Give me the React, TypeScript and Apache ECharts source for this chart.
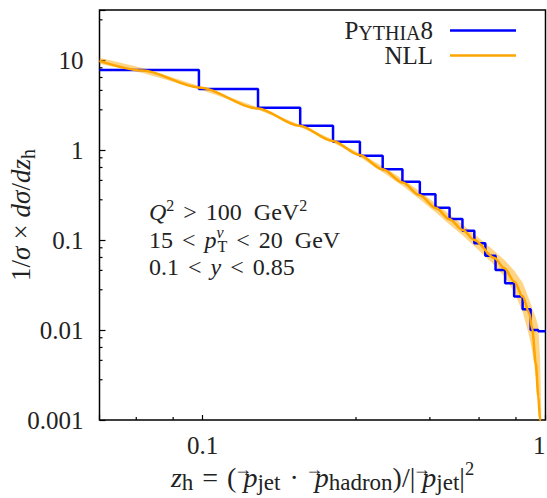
import React, { useEffect, useRef } from 'react';
import * as echarts from 'echarts';

const FONT = 'Liberation Serif, DejaVu Serif, serif';
const INK = '#222222';
const BLUE = '#0000ff';
const ORANGE = '#ffa500';
const BAND = 'rgba(255,165,0,0.48)';

const X_MIN = 0.05;
const X_MAX = 1;
const Y_MIN = 0.001;
const Y_MAX = 36;

const xTickValues = [0.1, 1];
const xTickLabels = ['0.1', '1'];
const yTickValues = [0.001, 0.01, 0.1, 1, 10];
const yTickLabels = ['0.001', '0.01', '0.1', '1', '10'];
const xMinorTicks = [0.064, 0.082, 0.28, 0.46, 0.64, 0.82];
const yMinorTicks = [0.0028, 0.0046, 0.0064, 0.0082, 0.028, 0.046, 0.064, 0.082, 0.28, 0.46, 0.64, 0.82, 2.8, 4.6, 6.4, 8.2, 28];

// Pythia8 histogram: 20 bins between 0.05 and 1
const binEdges = [0.05, 0.0975, 0.145, 0.1925, 0.24, 0.2875, 0.335, 0.3825, 0.43, 0.4775, 0.525, 0.5725, 0.62, 0.6675, 0.715, 0.7625, 0.81, 0.8575, 0.905, 0.9525, 1.0];
const pythiaValues = [7.74, 4.76, 2.95, 1.86, 1.24, 0.865, 0.61, 0.445, 0.322, 0.229, 0.171, 0.127, 0.0919, 0.067, 0.0464, 0.033, 0.0235, 0.017, 0.0100, 0.0097];

// NLL prediction: central curve and uncertainty band
const nllZ = [0.05, 0.0668, 0.0972, 0.1447, 0.1915, 0.2395, 0.2866, 0.335, 0.3835, 0.4286, 0.4797, 0.5248, 0.5734, 0.6202, 0.7096, 0.759, 0.8116, 0.858, 0.8974, 0.915, 0.937, 0.9528, 0.9641, 0.97, 0.975];
const nllCentral = [9.8, 7.65, 4.97, 2.9, 1.86, 1.26, 0.88, 0.61, 0.435, 0.316, 0.225, 0.17, 0.129, 0.1, 0.063, 0.0485, 0.0344, 0.0235, 0.0153, 0.0102, 0.00426, 0.00182, 0.001, 0.0006, 0.0003];
const nllLow = [9.07, 7.18, 4.78, 2.83, 1.81, 1.21, 0.84, 0.565, 0.399, 0.285, 0.201, 0.149, 0.112, 0.0855, 0.0525, 0.0391, 0.0261, 0.0158, 0.0084, 0.0058, 0.003, 0.0014, 0.0007, 0.0003, 0.0001];
const nllHigh = [10.6, 8.15, 5.17, 2.98, 1.91, 1.31, 0.92, 0.66, 0.474, 0.351, 0.252, 0.193, 0.148, 0.117, 0.0755, 0.0601, 0.0454, 0.0335, 0.0215, 0.0172, 0.0138, 0.011, 0.005, 0.0018, 0.0005];

const seriesNames = ['Pythia8', 'NLL'];
const cutLines = [
  '{i|Q}{sup|2}{rel|>}100  GeV{sup|2}',
  '15{rel|<}{i|p}{supz|ν}{sub|T}{rel|<}20  GeV',
  '0.1{rel|<}{i|y}{rel|<}0.85',
];
const xTitle = '{i|z}{sub|h}{rel|=}({arr|→}{i|p}{sub|jet}{rel|·}{arr|→}{i|p}{sub|hadron})/|{arr|→}{i|p}{sub|jet}|{sup|2}';
const yTitle = '1/{i|σ}{rel|×}{i|dσ}/{i|dz}{sub|h}';

function pickLabel(values: number[], labels: string[]) {
  return (v: number) => {
    const i = values.findIndex((t) => Math.abs(Math.log10(v / t)) < 1e-6);
    return i >= 0 ? labels[i] : '';
  };
}

function echartsRich(base: number, small: number, lh: number, relPad: number) {
  return {
    i: { fontFamily: FONT, fontSize: base, fontStyle: 'italic', color: INK, lineHeight: lh },
    rel: { fontFamily: FONT, fontSize: base, color: INK, lineHeight: lh, padding: [0, relPad, 0, relPad] },
    sub: { fontFamily: FONT, fontSize: small, color: INK, lineHeight: small, verticalAlign: 'bottom' },
    sup: { fontFamily: FONT, fontSize: small * 0.8, color: INK, lineHeight: small * 0.8, verticalAlign: 'top' },
    arr: { fontFamily: FONT, fontSize: 18, color: INK, lineHeight: 16, verticalAlign: 'top', width: 1, padding: [0, 0, 0, 6] },
  };
}

function zrRich(base: number, small: number, lh: number) {
  return {
    i: { fontFamily: FONT, fontSize: base, fontStyle: 'italic', fill: INK, lineHeight: lh },
    rel: { fontFamily: FONT, fontSize: base, fill: INK, lineHeight: lh, padding: [0, 9, 0, 9] },
    sub: { fontFamily: FONT, fontSize: small, fill: INK, lineHeight: small, verticalAlign: 'bottom' },
    sup: { fontFamily: FONT, fontSize: small, fill: INK, lineHeight: small, verticalAlign: 'top' },
    supz: { fontFamily: FONT, fontSize: small, fontStyle: 'italic', fill: INK, lineHeight: small, verticalAlign: 'top', width: 1 },
  };
}

export default function App() {
  const ref = useRef<HTMLDivElement>(null);
  useEffect(() => {
    const chart = echarts.init(ref.current!, undefined, { renderer: 'svg' });

    const pythiaSteps: number[][] = [];
    pythiaValues.forEach((v, i) => {
      pythiaSteps.push([binEdges[i], v]);
      pythiaSteps.push([binEdges[i + 1], v]);
    });

    const option: any = {
      animation: false,
      backgroundColor: '#fff',
      textStyle: { fontFamily: FONT },
      grid: {
        left: 99.5,
        top: 10,
        width: 446,
        height: 410,
        show: true,
        borderColor: '#000',
        borderWidth: 1.5,
        containLabel: false,
        outerBoundsMode: 'none',
      },
      legend: {
        data: seriesNames,
        orient: 'vertical',
        right: 31,
        top: 18,
        padding: 0,
        align: 'right',
        icon: 'rect',
        itemWidth: 66,
        itemHeight: 2.5,
        itemGap: 0,
        selectedMode: false,
        formatter: (name: string) => (name === 'Pythia8' ? '{cap|P}{sc|YTHIA}{cap|8}' : '{cap|NLL}'),
        textStyle: {
          fontFamily: FONT,
          fontSize: 25,
          color: INK,
          padding: [0, 12, 0, 0],
          rich: {
            cap: { fontFamily: FONT, fontSize: 25, color: INK, lineHeight: 25 },
            sc: { fontFamily: FONT, fontSize: 20, color: INK, lineHeight: 21, verticalAlign: 'bottom' },
          },
        },
      },
      xAxis: {
        type: 'log',
        logBase: 10,
        min: X_MIN,
        max: X_MAX,
        axisLine: { show: false },
        splitLine: { show: false },
        axisTick: { show: true, inside: true, length: 5, lineStyle: { color: '#000', width: 1.2 } },
        axisLabel: {
          formatter: pickLabel(xTickValues, xTickLabels),
          fontFamily: FONT,
          fontSize: 25,
          color: INK,
          margin: 13,
          alignMaxLabel: 'right',
        },
        name: xTitle,
        nameLocation: 'middle',
        nameGap: 40,
        nameMoveOverlap: false,
        nameTextStyle: { fontFamily: FONT, fontSize: 28, color: INK, lineHeight: 34, rich: echartsRich(28, 23, 34, 9) },
      },
      yAxis: {
        type: 'log',
        logBase: 10,
        min: Y_MIN,
        max: Y_MAX,
        axisLine: { show: false },
        splitLine: { show: false },
        axisTick: { show: true, inside: true, length: 6, lineStyle: { color: '#000', width: 1.2 } },
        axisLabel: {
          formatter: pickLabel(yTickValues, yTickLabels),
          fontFamily: FONT,
          fontSize: 25,
          color: INK,
          margin: 16,
        },
        name: yTitle,
        nameLocation: 'middle',
        nameRotate: 90,
        nameGap: 62,
        nameMoveOverlap: false,
        nameTextStyle: { fontFamily: FONT, fontSize: 27, color: INK, lineHeight: 34, rich: echartsRich(27, 20, 34, 7) },
      },
      graphic: cutLines.map((t, k) => ({
        type: 'text',
        x: 149,
        y: 212 + k * 27.5,
        z: 100,
        silent: true,
        style: {
          text: t,
          fontFamily: FONT,
          fontSize: 24,
          fill: INK,
          lineHeight: 30,
          verticalAlign: 'middle',
          rich: zrRich(24, 16, 30),
        },
      })),
      series: [
        {
          type: 'custom',
          name: 'band',
          silent: true,
          z: 1,
          data: [[X_MIN, Y_MIN]],
          renderItem: (params: any, api: any) => {
            const cs = params.coordSys;
            const upper = nllZ.map((z, i) => api.coord([z, nllHigh[i]]));
            const lower = nllZ.map((z, i) => api.coord([z, nllLow[i]])).reverse();
            return {
              type: 'polygon',
              shape: { points: upper.concat(lower) },
              style: { fill: BAND },
              clipPath: { type: 'rect', shape: { x: cs.x, y: cs.y, width: cs.width, height: cs.height } },
            };
          },
        },
        {
          type: 'line',
          name: 'Pythia8',
          z: 2,
          data: pythiaSteps,
          symbol: 'none',
          clip: true,
          lineStyle: { color: BLUE, width: 2.5 },
          itemStyle: { color: BLUE },
        },
        {
          type: 'line',
          name: 'NLL',
          z: 3,
          data: nllZ.map((z, i) => [z, nllCentral[i]]),
          symbol: 'none',
          smooth: 0.3,
          smoothMonotone: 'x',
          clip: true,
          lineStyle: { color: ORANGE, width: 2.5 },
          itemStyle: { color: ORANGE },
        },
        {
          type: 'custom',
          name: 'xminor',
          silent: true,
          z: 4,
          data: xMinorTicks.map((v) => [v, Y_MIN]),
          renderItem: (params: any, api: any) => {
            const cs = params.coordSys;
            const x = api.coord([api.value(0), Y_MIN])[0];
            const yb = cs.y + cs.height;
            return { type: 'line', shape: { x1: x, y1: yb, x2: x, y2: yb - 3 }, style: { stroke: '#000', lineWidth: 1.2 } };
          },
        },
        {
          type: 'custom',
          name: 'yminor',
          silent: true,
          z: 4,
          data: yMinorTicks.map((v) => [X_MIN, v]),
          renderItem: (params: any, api: any) => {
            const cs = params.coordSys;
            const y = api.coord([X_MIN, api.value(1)])[1];
            return { type: 'line', shape: { x1: cs.x, y1: y, x2: cs.x + 3, y2: y }, style: { stroke: '#000', lineWidth: 1.2 } };
          },
        },
      ],
    };
    chart.setOption(option);
    return () => chart.dispose();
  }, []);
  return <div ref={ref} style={{ position: 'fixed', left: 0, top: 0, width: 547, height: 498, background: '#fff' }} />;
}
